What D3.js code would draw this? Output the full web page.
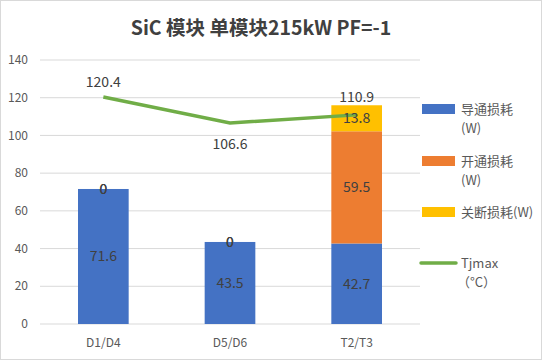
<!DOCTYPE html>
<html>
<head>
<meta charset="utf-8">
<script src="https://cdn.jsdelivr.net/npm/d3@7"></script>
<style>
  body { margin: 0; background: #fff; }
  text { font-family: "Noto Sans CJK SC", "Open Sans", sans-serif; }
</style>
</head>
<body>
<div id="container"></div>
<script>
// chart data
var categories = ["D1/D4", "D5/D6", "T2/T3"];
var conduction = [71.6, 43.5, 42.7];   // 导通损耗
var turnOn = [0, 0, 59.5];             // 开通损耗
var turnOff = [0, 0, 13.8];            // 关断损耗
var tjmax = [120.4, 106.6, 110.9];     // Tjmax
var yTicks = [0, 20, 40, 60, 80, 100, 120, 140];

var W = 543, H = 360;
var margin = {top: 60, right: 123, bottom: 36, left: 40},
    width = W - margin.left - margin.right,
    height = H - margin.top - margin.bottom;

var colors = ["#4472C4", "#ED7D31", "#FFC000"];
var lineColor = "#70AD47";

var svg = d3.select("#container").append("svg")
  .attr("width", W)
  .attr("height", H);

// outer border
svg.append("rect")
  .attr("x", 0.5).attr("y", 0.5)
  .attr("width", W - 2).attr("height", H - 1)
  .attr("fill", "#fff")
  .attr("stroke", "#d9d9d9");

svg.append("text")
  .attr("x", 261).attr("y", 35)
  .attr("text-anchor", "middle")
  .attr("font-size", 19.5)
  .attr("font-weight", "bold")
  .attr("fill", "#404040")
  .text("SiC 模块 单模块215kW PF=-1");

var g = svg.append("g")
  .attr("transform", "translate(" + margin.left + "," + margin.top + ")");

var x = d3.scaleBand().domain(categories).range([0, width]);
var y = d3.scaleLinear().domain([0, 140]).range([height, 0]);

// grid
g.selectAll(".grid").data(yTicks).enter().append("line")
  .attr("x1", 0).attr("x2", width)
  .attr("y1", function(d) { return y(d); })
  .attr("y2", function(d) { return y(d); })
  .attr("stroke", "#d9d9d9");

// y labels
g.selectAll(".ylab").data(yTicks).enter().append("text")
  .attr("x", -12)
  .attr("y", function(d) { return y(d); })
  .attr("dy", "0.35em")
  .attr("text-anchor", "end")
  .attr("font-size", 12)
  .attr("fill", "#595959")
  .text(function(d) { return d; });

// x labels
g.selectAll(".xlab").data(categories).enter().append("text")
  .attr("x", function(d) { return x(d) + x.bandwidth() / 2; })
  .attr("y", height + 19)
  .attr("dy", "0.35em")
  .attr("text-anchor", "middle")
  .attr("font-size", 12)
  .attr("fill", "#595959")
  .text(function(d) { return d; });

// stacked bars
var rows = categories.map(function(c, i) {
  return {cat: c, a: conduction[i], b: turnOn[i], c: turnOff[i]};
});
var stack = d3.stack().keys(["a", "b", "c"])(rows);
var barW = x.bandwidth() * 0.4;

var layers = g.selectAll(".layer").data(stack).enter().append("g")
  .attr("fill", function(d, i) { return colors[i]; });

layers.selectAll("rect").data(function(d) { return d; }).enter().append("rect")
  .attr("x", function(d) { return x(d.data.cat) + (x.bandwidth() - barW) / 2; })
  .attr("y", function(d) { return y(d[1]); })
  .attr("width", barW)
  .attr("height", function(d) { return y(d[0]) - y(d[1]); });

// line
var line = d3.line()
  .x(function(d, i) { return x(categories[i]) + x.bandwidth() / 2; })
  .y(function(d) { return y(d); });

g.append("path")
  .datum(tjmax)
  .attr("d", line)
  .attr("fill", "none")
  .attr("stroke", lineColor)
  .attr("stroke-width", 3.5);

// bar labels
stack.forEach(function(layer) {
  g.selectAll(null).data(layer).enter().append("text")
    .attr("x", function(d) { return x(d.data.cat) + x.bandwidth() / 2; })
    .attr("y", function(d) { return y((d[0] + d[1]) / 2); })
    .attr("dy", "0.35em")
    .attr("text-anchor", "middle")
    .attr("font-size", 14)
    .attr("fill", "#404040")
    .text(function(d) { return +(d[1] - d[0]).toFixed(1); });
});

// line labels
var labelOffset = [-15, 21, -18];
g.selectAll(".llab").data(tjmax).enter().append("text")
  .attr("x", function(d, i) { return x(categories[i]) + x.bandwidth() / 2; })
  .attr("y", function(d, i) { return y(d) + labelOffset[i]; })
  .attr("dy", "0.35em")
  .attr("text-anchor", "middle")
  .attr("font-size", 14)
  .attr("fill", "#404040")
  .text(function(d) { return d.toFixed(1); });

// legend
var legend = [
  {lines: ["导通损耗", "(W)"], color: colors[0], y: 109},
  {lines: ["开通损耗", "(W)"], color: colors[1], y: 161},
  {lines: ["关断损耗(W)"], color: colors[2], y: 212},
  {lines: ["Tjmax", "（°C）"], color: lineColor, y: 263, isLine: true}
];

legend.forEach(function(l) {
  if (l.isLine) {
    svg.append("line")
      .attr("x1", 421).attr("x2", 456)
      .attr("y1", l.y).attr("y2", l.y)
      .attr("stroke", l.color).attr("stroke-width", 3.5)
      .attr("stroke-linecap", "round");
  } else {
    svg.append("rect")
      .attr("x", 422).attr("y", l.y - 5)
      .attr("width", 33).attr("height", 10)
      .attr("fill", l.color);
  }
  l.lines.forEach(function(t, j) {
    svg.append("text")
      .attr("x", j == 1 && l.isLine ? 457 : 461)
      .attr("y", l.y + j * 19)
      .attr("dy", "0.35em")
      .attr("font-size", 13)
      .attr("fill", "#595959")
      .text(t);
  });
});
</script>
</body>
</html>
